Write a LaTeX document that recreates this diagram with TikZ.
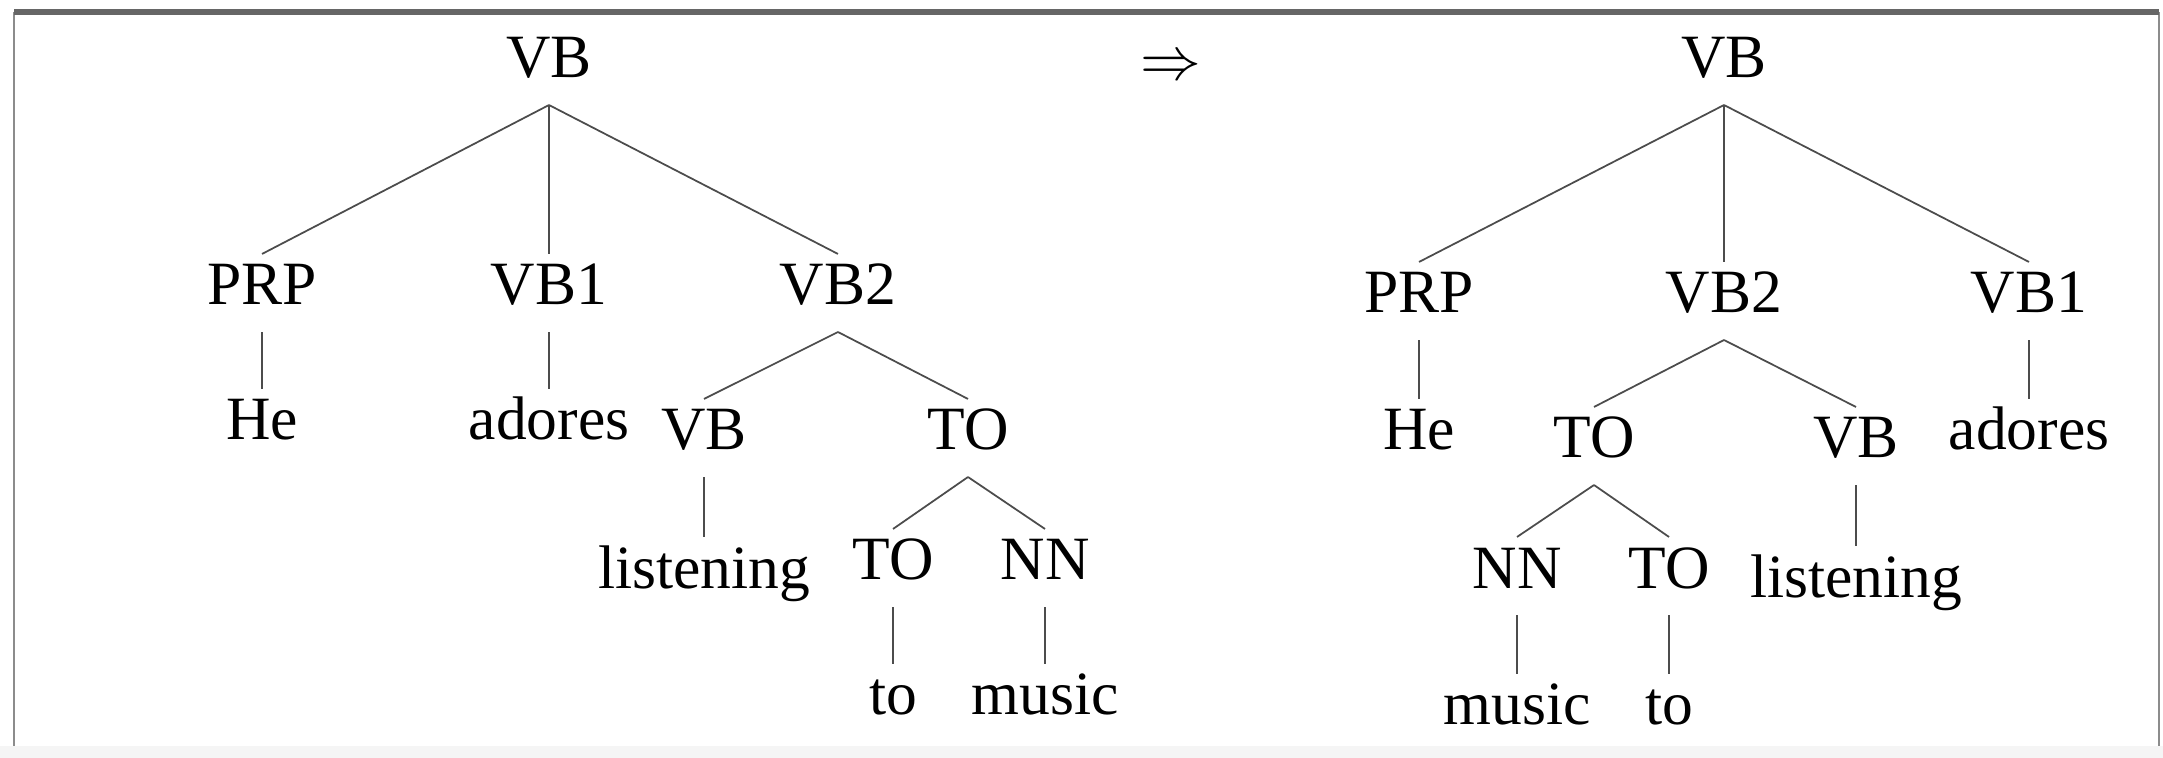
\documentclass[tikz,border=0pt]{standalone}
\usepackage{fontspec}
\setmainfont{Liberation Serif}
\usepackage{tikz}

\tikzset{
  tag/.style={anchor=base, inner xsep=2pt, inner ysep=0pt,
    text height=0.40cm, text depth=0.16cm, outer ysep=0.11cm,
    font=\fontsize{17.5pt}{20pt}\selectfont},
  branch/.style={draw=black!70, line width=0.5pt}
}

\begin{document}
\begin{tikzpicture}[x=0.01cm,y=-0.01cm]
  \useasboundingbox (0,0) rectangle (2163,758);
  % frame
  \fill[black!4] (0,746) rectangle (2163,758);
  \draw[black!45, line width=0.8pt] (14,12) -- (14,746);
  \draw[black!45, line width=0.8pt] (2159,12) -- (2159,746);
  \draw[black!60, line width=1.6pt] (14,12) -- (2159,12);

  % left tree
  \node[tag] (vbL) at (549,78) {VB};
  \node[tag] (prpL) at (262,305) {PRP};
  \node[tag] (vbaL) at (549,305) {VB1};
  \node[tag] (vbbL) at (838,305) {VB2};
  \node[tag] (heL) at (262,440) {He};
  \node[tag] (adoresL) at (549,440) {adores};
  \node[tag] (vbcL) at (704,450) {VB};
  \node[tag] (toL) at (968,450) {TO};
  \node[tag] (listeningL) at (704,588) {listening};
  \node[tag] (todL) at (893,580) {TO};
  \node[tag] (nnL) at (1045,580) {NN};
  \node[tag] (toxL) at (893,715) {to};
  \node[tag] (musicL) at (1045,715) {music};

  \draw[branch] (vbL.south) -- (prpL.north);
  \draw[branch] (vbL.south) -- (vbaL.north);
  \draw[branch] (vbL.south) -- (vbbL.north);
  \draw[branch] (prpL.south) -- (heL.north);
  \draw[branch] (vbaL.south) -- (adoresL.north);
  \draw[branch] (vbbL.south) -- (vbcL.north);
  \draw[branch] (vbbL.south) -- (toL.north);
  \draw[branch] (vbcL.south) -- (listeningL.north);
  \draw[branch] (toL.south) -- (todL.north);
  \draw[branch] (toL.south) -- (nnL.north);
  \draw[branch] (todL.south) -- (toxL.north);
  \draw[branch] (nnL.south) -- (musicL.north);

  \node[tag] (arrow) at (1171,80) {$\Rightarrow$};

  % right tree
  \node[tag] (vbR) at (1724,78) {VB};
  \node[tag] (prpR) at (1419,313) {PRP};
  \node[tag] (vbbR) at (1724,313) {VB2};
  \node[tag] (vbaR) at (2029,313) {VB1};
  \node[tag] (heR) at (1419,450) {He};
  \node[tag] (toR) at (1594,458) {TO};
  \node[tag] (vbcR) at (1856,458) {VB};
  \node[tag] (adoresR) at (2029,450) {adores};
  \node[tag] (nnR) at (1517,588) {NN};
  \node[tag] (todR) at (1669,588) {TO};
  \node[tag] (listeningR) at (1856,597) {listening};
  \node[tag] (musicR) at (1517,725) {music};
  \node[tag] (toxR) at (1669,725) {to};

  \draw[branch] (vbR.south) -- (prpR.north);
  \draw[branch] (vbR.south) -- (vbbR.north);
  \draw[branch] (vbR.south) -- (vbaR.north);
  \draw[branch] (prpR.south) -- (heR.north);
  \draw[branch] (vbbR.south) -- (toR.north);
  \draw[branch] (vbbR.south) -- (vbcR.north);
  \draw[branch] (vbaR.south) -- (adoresR.north);
  \draw[branch] (toR.south) -- (nnR.north);
  \draw[branch] (toR.south) -- (todR.north);
  \draw[branch] (vbcR.south) -- (listeningR.north);
  \draw[branch] (nnR.south) -- (musicR.north);
  \draw[branch] (todR.south) -- (toxR.north);
\end{tikzpicture}
\end{document}
